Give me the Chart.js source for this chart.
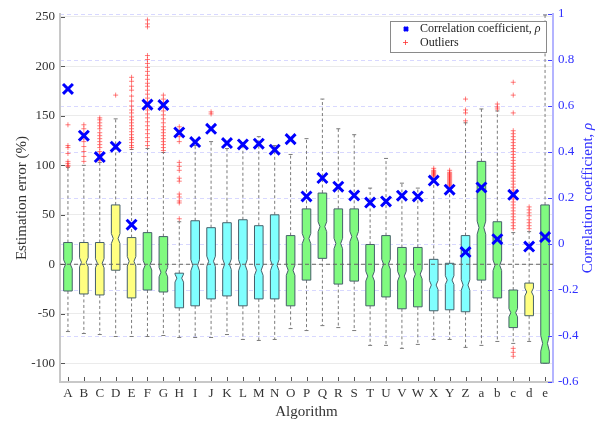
<!DOCTYPE html>
<html>
<head>
<meta charset="utf-8">
<script src="https://cdn.jsdelivr.net/npm/chart.js@4.4.1/dist/chart.umd.min.js"></script>
<style>
  html, body { margin: 0; padding: 0; background: #fff; }
  #chart { display: block; }
</style>
</head>
<body>
<canvas id="chart" width="598" height="424"></canvas>
<script>
// Data
const labels = ["A", "B", "C", "D", "E", "F", "G", "H", "I", "J", "K", "L", "M", "N", "O", "P",
  "Q", "R", "S", "T", "U", "V", "W", "X", "Y", "Z", "a", "b", "c", "d", "e"];
// algorithm family: 1 = green, 2 = yellow, 3 = cyan
const family = [1, 2, 2, 2, 2, 1, 1, 3, 3, 3, 3, 3, 3, 3, 1, 1,
  1, 1, 1, 1, 1, 1, 1, 3, 3, 3, 1, 1, 1, 2, 1];
const whiskerLow = [-68, -70, -71, -73, -73, -73, -72, -74, -74, -74, -71, -76, -77, -76, -65, -67,
  -62, -64, -67, -82, -82, -85, -81, -76, -76, -84, -82, -78, -80, -78, -100];
const q1 = [-27, -30, -31, -6, -34, -26, -28, -44, -42, -35, -32, -42, -35, -35, -42, -16,
  6, -20, -17, -42, -33, -45, -43, -47, -46, -48, -16, -34, -64, -52, -100];
const median = [0, 2, 1, 26, 3, -1, -8, -14, -1, 3, 0, -1, -6, -1, -6, 26,
  38, 21, 28, -12, 0, -12, -10, -21, -16, -21, 37, -1, -49, -28, -80];
const q3 = [22, 22, 22, 60, 27, 32, 28, -9, 44, 37, 42, 45, 39, 50, 29, 56,
  72, 56, 56, 20, 29, 17, 17, 5, 1, 29, 104, 43, -26, -19, 60];
const whiskerHigh = [98, 100, 103, 147, 116, 117, 113, 43, 120, 124, 117, 119, 129, 120, 111, 127,
  167, 137, 131, 77, 107, 82, 77, 87, 77, 143, 157, 155, 32, 33, 252];
const outliers = [
  [141, 120, 118, 112, 104, 102, 100, 99],
  [141, 137, 132, 128, 124, 119, 114, 109, 104],
  [148, 146, 143, 140, 137, 133, 130, 127, 124, 121, 118, 114, 111, 108, 105],
  [171],
  [189, 185, 180, 176, 170, 165, 160, 156, 153, 149, 146, 143, 140, 137, 134, 131, 128, 126, 123, 120, 118],
  [247, 243, 240, 211, 207, 203, 199, 195, 191, 187, 183, 180, 176, 172, 168, 164, 160, 156, 152, 148,
    144, 140, 136, 132, 128, 124, 120],
  [171, 167, 163, 159, 155, 151, 147, 143, 139, 136, 133, 130, 127, 124, 121, 118, 115],
  [139, 134, 129, 124, 103, 99, 95, 87, 84, 71, 68, 64, 62, 46],
  [],
  [154, 152],
  [], [], [], [], [], [], [], [], [], [], [], [], [],
  [97, 95, 94, 93, 92, 91, 90, 89],
  [95, 93, 92, 91, 90, 89, 88, 87, 86, 85, 84, 83, 82, 81, 80, 79],
  [167, 156, 153, 145],
  [],
  [162, 159, 157],
  [184, 171, 153, 135, 132, 129, 126, 123, 120, 117, 114, 111, 108, 105, 102, 99, 96, 93, 90, 87,
    84, 81, 78, 75, 72, 69, 66, 63, 60, 57, 54, 51, 48, 45, 42, 39, 36, -85, -89, -93],
  [58, 55, 52, 49, 45, 42, 39, 36],
  []
];
const rho = [0.674, 0.471, 0.378, 0.423, 0.084, 0.606, 0.604, 0.485, 0.443, 0.501, 0.439, 0.433, 0.436,
  0.41, 0.456, 0.207, 0.287, 0.249, 0.211, 0.18, 0.185, 0.21, 0.207, 0.276, 0.236, -0.035, 0.246,
  0.021, 0.214, -0.011, 0.03];
const errorTicks = [-100, -50, 0, 50, 100, 150, 200, 250];
const rhoTicks = [-0.6, -0.4, -0.2, 0, 0.2, 0.4, 0.6, 0.8, 1];

const fills = { 1: "#80fa80", 2: "#ffff80", 3: "#80ffff" };
const serif = "'Liberation Serif', 'DejaVu Serif', serif";
Chart.defaults.font.family = serif;

const outlierPoints = [];
outliers.forEach((list, i) => {
  list.forEach((v) => outlierPoints.push({ x: labels[i], y: v }));
});

function line(ctx, x1, y1, x2, y2) {
  ctx.beginPath();
  ctx.moveTo(x1, y1);
  ctx.lineTo(x2, y2);
  ctx.stroke();
}

// draws whiskers, notched boxes and the zero line under the markers
const boxPlot = {
  id: "boxPlot",
  beforeDatasetsDraw(chart) {
    const { ctx, chartArea, scales } = chart;
    const y = scales.y;
    const bars = chart.getDatasetMeta(0).data;
    ctx.save();
    bars.forEach((bar, i) => {
      const cx = bar.x;
      const half = bar.width / 2;
      const yLo = y.getPixelForValue(whiskerLow[i]);
      const yHi = y.getPixelForValue(whiskerHigh[i]);
      const yQ1 = y.getPixelForValue(q1[i]);
      const yQ3 = y.getPixelForValue(q3[i]);
      const iqr = q3[i] - q1[i];
      const n = 3 + 0.03 * iqr;
      const yMed = y.getPixelForValue(median[i]);
      const yN1 = Math.max(y.getPixelForValue(median[i] + n), yQ3);
      const yN2 = Math.min(y.getPixelForValue(median[i] - n), yQ1);

      // whiskers
      ctx.strokeStyle = "#7a7a7a";
      ctx.lineWidth = 1;
      ctx.setLineDash([3, 2.5]);
      line(ctx, cx, yQ3, cx, yHi);
      line(ctx, cx, yQ1, cx, yLo);
      ctx.setLineDash([]);
      line(ctx, cx - 2, yHi, cx + 2, yHi);
      line(ctx, cx - 2, yLo, cx + 2, yLo);

      // notched box
      const inset = bar.width * 0.22;
      ctx.beginPath();
      ctx.moveTo(cx - half, yQ1);
      ctx.lineTo(cx - half, yN2);
      ctx.lineTo(cx - half + inset, yMed);
      ctx.lineTo(cx - half, yN1);
      ctx.lineTo(cx - half, yQ3);
      ctx.lineTo(cx + half, yQ3);
      ctx.lineTo(cx + half, yN1);
      ctx.lineTo(cx + half - inset, yMed);
      ctx.lineTo(cx + half, yN2);
      ctx.lineTo(cx + half, yQ1);
      ctx.closePath();
      ctx.fillStyle = fills[family[i]];
      ctx.fill();
      ctx.strokeStyle = "#46606a";
      ctx.lineWidth = 1;
      ctx.stroke();
    });

    // zero reference
    const y0 = y.getPixelForValue(0);
    ctx.strokeStyle = "#666";
    ctx.setLineDash([4, 3]);
    line(ctx, chartArea.left, y0, chartArea.right, y0);
    ctx.restore();
  },
  afterDraw(chart) {
    const { ctx, chartArea, scales } = chart;
    const { x, y, y2 } = scales;
    ctx.save();
    // inward tick marks
    ctx.lineWidth = 1;
    ctx.strokeStyle = "#555";
    labels.forEach((_, i) => {
      const px = Math.round(x.getPixelForValue(i)) + 0.5;
      line(ctx, px, chartArea.bottom - 1, px, chartArea.bottom - 5);
    });
    errorTicks.forEach((v) => {
      const py = Math.round(y.getPixelForValue(v)) + 0.5;
      line(ctx, chartArea.left + 1, py, chartArea.left + 5, py);
    });
    ctx.strokeStyle = "#4444ff";
    rhoTicks.forEach((v) => {
      const py = Math.round(y2.getPixelForValue(v)) + 0.5;
      line(ctx, chartArea.right - 1, py, chartArea.right - 5, py);
    });

    // right axis title, reading bottom to top
    ctx.save();
    ctx.translate(588, (chartArea.top + chartArea.bottom) / 2);
    ctx.rotate(-Math.PI / 2);
    ctx.fillStyle = "#3030ff";
    ctx.textBaseline = "middle";
    ctx.textAlign = "left";
    const t1 = "Correlation coefficient, ";
    ctx.font = "15px " + serif;
    const w1 = ctx.measureText(t1).width;
    ctx.font = "italic 15px " + serif;
    const w2 = ctx.measureText("ρ").width;
    ctx.font = "15px " + serif;
    ctx.fillText(t1, -(w1 + w2) / 2, 0);
    ctx.font = "italic 15px " + serif;
    ctx.fillText("ρ", -(w1 + w2) / 2 + w1, 0);
    ctx.restore();

    // legend
    const lx = 390, ly = 21, lw = 156, lh = 31;
    ctx.fillStyle = "#fff";
    ctx.fillRect(lx, ly, lw, lh);
    ctx.strokeStyle = "#8a8a8a";
    ctx.lineWidth = 1;
    ctx.strokeRect(lx + 0.5, ly + 0.5, lw, lh);
    ctx.strokeStyle = "#0000ff";
    ctx.lineWidth = 2.5;
    line(ctx, 404, 27, 408, 31);
    line(ctx, 408, 27, 404, 31);
    ctx.strokeStyle = "rgba(255,40,40,0.75)";
    ctx.lineWidth = 1;
    line(ctx, 403, 42.5, 408, 42.5);
    line(ctx, 405.5, 40, 405.5, 45);
    ctx.fillStyle = "#222";
    ctx.textBaseline = "middle";
    ctx.textAlign = "left";
    ctx.font = "12px " + serif;
    const s1 = "Correlation coefficient, ";
    ctx.fillText(s1, 420, 29);
    const sw = ctx.measureText(s1).width;
    ctx.font = "italic 12px " + serif;
    ctx.fillText("ρ", 420 + sw, 29);
    ctx.font = "12px " + serif;
    ctx.fillText("Outliers", 420, 43);
    ctx.restore();
  }
};

const ctx = document.getElementById("chart").getContext("2d");
const chart = new Chart(ctx, {
  type: "bar",
  data: {
    labels: labels,
    datasets: [
      {
        type: "bar",
        label: "Estimation error",
        data: labels.map((_, i) => [q1[i], q3[i]]),
        backgroundColor: "rgba(0,0,0,0)",
        borderWidth: 0,
        barPercentage: 0.54,
        categoryPercentage: 1,
        yAxisID: "y",
        order: 3,
      },
      {
        type: "line",
        label: "Outliers",
        data: outlierPoints,
        showLine: false,
        pointStyle: "cross",
        pointRadius: 2.5,
        pointBorderWidth: 1,
        pointBorderColor: "rgba(255,40,40,0.6)",
        yAxisID: "y",
        order: 2,
      },
      {
        type: "line",
        label: "Correlation coefficient, ρ",
        data: rho,
        showLine: false,
        pointStyle: "crossRot",
        pointRadius: 7,
        pointBorderWidth: 3,
        pointBorderColor: "#0000ff",
        yAxisID: "y2",
        order: 1,
      },
    ],
  },
  options: {
    responsive: false,
    animation: false,
    events: [],
    layout: { padding: { top: 14, left: 0, right: 0, bottom: 0 } },
    plugins: {
      legend: { display: false },
      tooltip: { enabled: false },
    },
    scales: {
      x: {
        offset: true,
        grid: { display: false, drawTicks: false },
        border: { display: true, color: "#c8c8c8", width: 2 },
        ticks: { color: "#333", font: { size: 13 }, padding: 4, autoSkip: false, maxRotation: 0 },
        title: { display: true, text: "Algorithm", color: "#333", font: { size: 15 }, padding: { top: 0, bottom: 3 } },
        afterFit: (s) => { s.height = 42; },
      },
      y: {
        position: "left",
        min: -119,
        max: 253,
        afterBuildTicks: (s) => { s.ticks = errorTicks.map((v) => ({ value: v })); },
        grid: { color: "#ebebeb", drawTicks: false },
        border: { color: "#c8c8c8", width: 2 },
        ticks: { color: "#333", font: { size: 13 }, padding: 5 },
        title: { display: true, text: "Estimation error (%)", color: "#333", font: { size: 15 }, padding: { top: 13 } },
        afterFit: (s) => { s.width = 60; },
      },
      y2: {
        position: "right",
        min: -0.6,
        max: 1,
        afterBuildTicks: (s) => { s.ticks = rhoTicks.map((v) => ({ value: v })); },
        grid: { color: "#d8d8ff", drawTicks: false },
        border: { color: "#b4b4ff", width: 2, dash: [4, 3] },
        ticks: {
          color: "#3030ff",
          font: { size: 13 },
          padding: 5,
          callback: (v) => String(Number(v.toFixed(1))),
        },
        afterFit: (s) => { s.width = 45; },
      },
    },
  },
  plugins: [boxPlot],
});
</script>
</body>
</html>
